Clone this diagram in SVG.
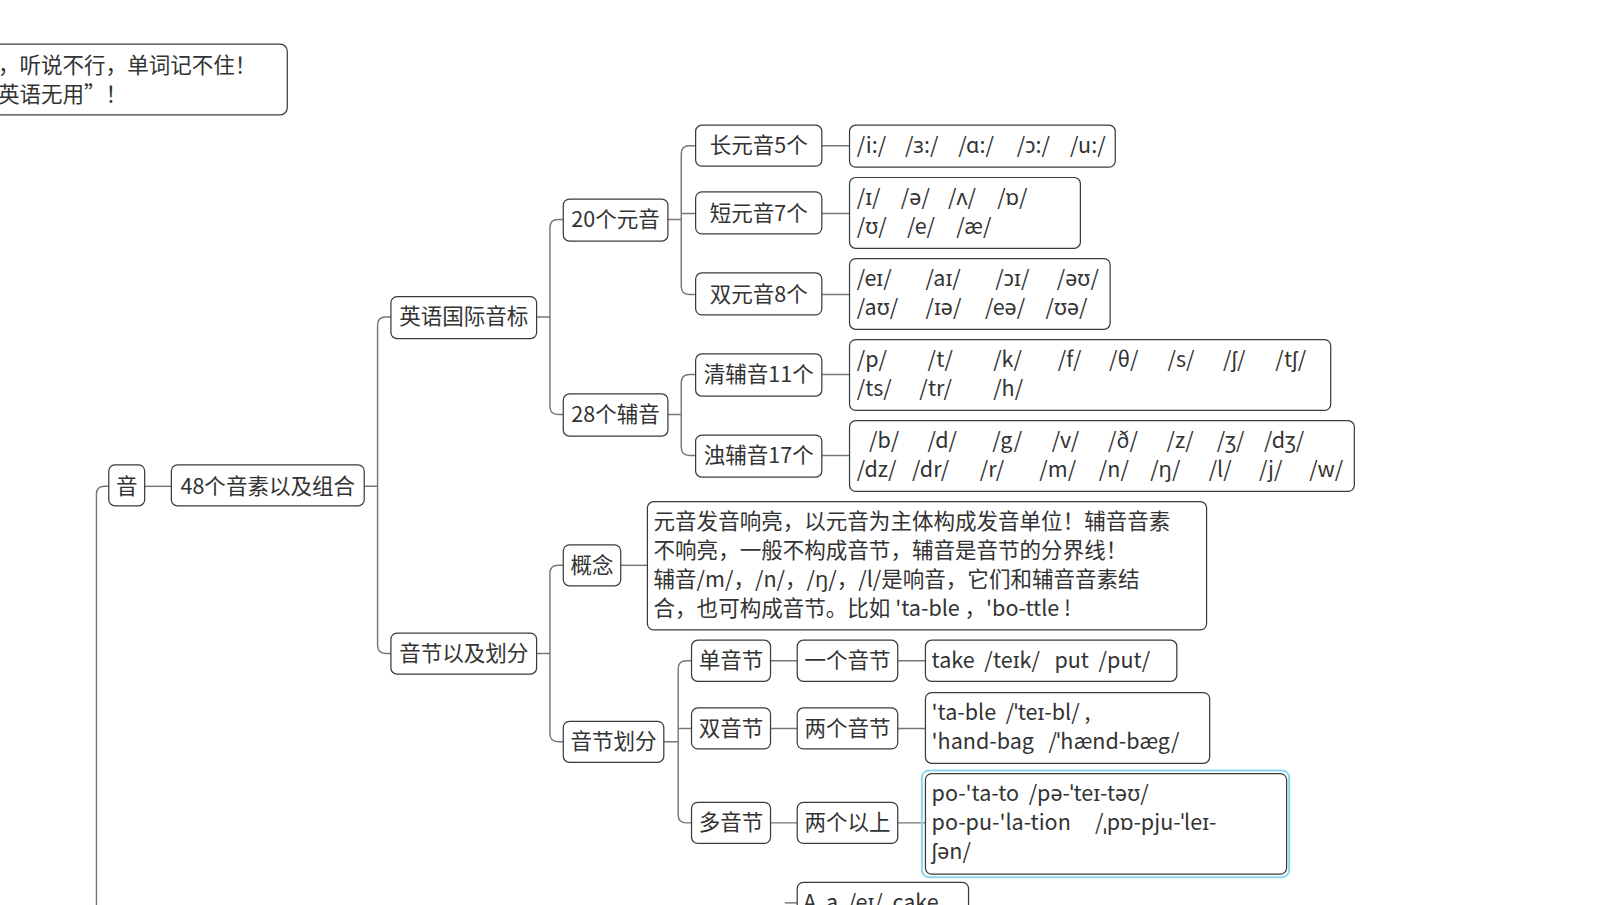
<svg xmlns="http://www.w3.org/2000/svg" width="1609" height="905" viewBox="0 0 1609 905">
<style>
.b{fill:#fff;stroke:#3a3a3a;stroke-width:1.2}
.t{font-family:"Noto Sans CJK SC","Noto Sans",sans-serif;font-size:21px;fill:#333}
.c{text-anchor:middle}
.l{fill:none;stroke:#777;stroke-width:1.4}
</style>
<rect width="1609" height="905" fill="#fff"/>
<g transform="scale(1.026)">
<g id="connectors">
<path class="l" d="M106,474H102Q94,474 94,482V890"/>
<path class="l" d="M141,474H167"/>
<path class="l" d="M355,474H368M381,309H376Q368,309 368,317V629Q368,637 376,637H381"/>
<path class="l" d="M523,309H536M549,214H544Q536,214 536,222V396Q536,404 544,404H549"/>
<path class="l" d="M651,214H664M678,142H672Q664,142 664,150V279Q664,287 672,287H678M664,208H678"/>
<path class="l" d="M651,404H664M678,365H672Q664,365 664,373V436Q664,444 672,444H678"/>
<path class="l" d="M801,142H828M801,208H828M801,287H828M801,365H828M801,444H828"/>
<path class="l" d="M523,637H536M549,551H544Q536,551 536,559V715Q536,723 544,723H549"/>
<path class="l" d="M605,551H631"/>
<path class="l" d="M647,723H661M674,644H669Q661,644 661,652V794Q661,802 669,802H674M661,710H674"/>
<path class="l" d="M751,644H777M875,644H902M751,710H777M875,710H902M751,802H777M875,802H902"/>
<path class="l" d="M765,880H777"/>
</g>
<g id="top"><rect class="b" x="-10" y="43" width="290" height="69" rx="7"/>
<text class="t" x="-2" y="71">，听说不行，单词记不住！</text><text class="t" x="-2" y="99">英语无用”！</text></g>
<g id="yin"><rect class="b" x="106" y="453" width="35" height="40" rx="6"/><text class="t c" x="123.5" y="481">音</text></g>
<g id="n48"><rect class="b" x="167" y="453" width="188" height="40" rx="6"/><text class="t c" x="261" y="481">48个音素以及组合</text></g>
<g id="ipa"><rect class="b" x="381" y="289" width="142" height="41" rx="6"/><text class="t c" x="452" y="316">英语国际音标</text></g>
<g id="syl"><rect class="b" x="381" y="617" width="142" height="40" rx="6"/><text class="t c" x="452" y="644">音节以及划分</text></g>
<g id="v20"><rect class="b" x="549" y="194" width="102" height="41" rx="6"/><text class="t c" x="600" y="221">20个元音</text></g>
<g id="c28"><rect class="b" x="549" y="384" width="102" height="41" rx="6"/><text class="t c" x="600" y="411">28个辅音</text></g>
<g id="long"><rect class="b" x="678" y="122" width="123" height="40" rx="6"/><text class="t c" x="739.5" y="149">长元音5个</text></g>
<g id="short"><rect class="b" x="678" y="187" width="123" height="41" rx="6"/><text class="t c" x="739.5" y="215">短元音7个</text></g>
<g id="diph"><rect class="b" x="678" y="266" width="123" height="41" rx="6"/><text class="t c" x="739.5" y="294">双元音8个</text></g>
<g id="vl"><rect class="b" x="678" y="345" width="123" height="41" rx="6"/><text class="t c" x="739.5" y="372">清辅音11个</text></g>
<g id="vd"><rect class="b" x="678" y="424" width="123" height="41" rx="6"/><text class="t c" x="739.5" y="451">浊辅音17个</text></g>
<g id="longv"><rect class="b" x="828" y="122" width="259" height="41" rx="6"/>
<text class="t" y="149"><tspan x="835">/i:/</tspan><tspan x="882">/ɜ:/</tspan><tspan x="934">/ɑ:/</tspan><tspan x="991">/ɔ:/</tspan><tspan x="1043">/u:/</tspan></text></g>
<g id="shortv"><rect class="b" x="828" y="173" width="225" height="69" rx="6"/>
<text class="t" y="200"><tspan x="835">/ɪ/</tspan><tspan x="878">/ə/</tspan><tspan x="924">/ʌ/</tspan><tspan x="972">/ɒ/</tspan></text>
<text class="t" y="228"><tspan x="835">/ʊ/</tspan><tspan x="884">/e/</tspan><tspan x="932">/æ/</tspan></text></g>
<g id="diphv"><rect class="b" x="828" y="252" width="254" height="69" rx="6"/>
<text class="t" y="279"><tspan x="835">/eɪ/</tspan><tspan x="902">/aɪ/</tspan><tspan x="970">/ɔɪ/</tspan><tspan x="1030">/əʊ/</tspan></text>
<text class="t" y="307"><tspan x="835">/aʊ/</tspan><tspan x="902">/ɪə/</tspan><tspan x="960">/eə/</tspan><tspan x="1019">/ʊə/</tspan></text></g>
<g id="vlv"><rect class="b" x="828" y="331" width="469" height="69" rx="6"/>
<text class="t" y="358"><tspan x="835">/p/</tspan><tspan x="904">/t/</tspan><tspan x="968">/k/</tspan><tspan x="1031">/f/</tspan><tspan x="1081">/θ/</tspan><tspan x="1138">/s/</tspan><tspan x="1192">/ʃ/</tspan><tspan x="1243">/tʃ/</tspan></text>
<text class="t" y="386"><tspan x="835">/ts/</tspan><tspan x="896">/tr/</tspan><tspan x="968">/h/</tspan></text></g>
<g id="vdv"><rect class="b" x="828" y="410" width="492" height="69" rx="6"/>
<text class="t" y="437"><tspan x="847">/b/</tspan><tspan x="904">/d/</tspan><tspan x="967">/g/</tspan><tspan x="1025">/v/</tspan><tspan x="1080">/ð/</tspan><tspan x="1137">/z/</tspan><tspan x="1186">/ʒ/</tspan><tspan x="1232">/dʒ/</tspan></text>
<text class="t" y="465"><tspan x="835">/dz/</tspan><tspan x="889">/dr/</tspan><tspan x="955">/r/</tspan><tspan x="1013">/m/</tspan><tspan x="1071">/n/</tspan><tspan x="1121">/ŋ/</tspan><tspan x="1178">/l/</tspan><tspan x="1227">/j/</tspan><tspan x="1276">/w/</tspan></text></g>
<g id="concept"><rect class="b" x="549" y="531" width="56" height="40" rx="6"/><text class="t c" x="577" y="558">概念</text></g>
<g id="conceptv"><rect class="b" x="631" y="489" width="545" height="125" rx="6"/>
<text class="t" x="637" y="516">元音发音响亮，以元音为主体构成发音单位！辅音音素</text>
<text class="t" x="637" y="544">不响亮，一般不构成音节，辅音是音节的分界线！</text>
<text class="t" x="637" y="572">辅音/m/，/n/，/ŋ/，/l/是响音，它们和辅音音素结</text>
<text class="t" x="637" y="600" xml:space="preserve">合，也可构成音节。比如 'ta-ble ，'bo-ttle !</text></g>
<g id="div"><rect class="b" x="549" y="703" width="98" height="40" rx="6"/><text class="t c" x="598" y="730">音节划分</text></g>
<g id="mono"><rect class="b" x="674" y="624" width="77" height="40" rx="6"/><text class="t c" x="712.5" y="651">单音节</text></g>
<g id="one"><rect class="b" x="777" y="624" width="98" height="40" rx="6"/><text class="t c" x="826" y="651">一个音节</text></g>
<g id="monov"><rect class="b" x="902" y="624" width="245" height="40" rx="6"/><text class="t" x="908" y="651" xml:space="preserve">take  /teɪk/   put  /put/</text></g>
<g id="di"><rect class="b" x="674" y="690" width="77" height="40" rx="6"/><text class="t c" x="712.5" y="717">双音节</text></g>
<g id="two"><rect class="b" x="777" y="690" width="98" height="40" rx="6"/><text class="t c" x="826" y="717">两个音节</text></g>
<g id="div2"><rect class="b" x="902" y="675" width="277" height="69" rx="6"/>
<text class="t" x="908" y="702" xml:space="preserve">'ta-ble  /ˈteɪ-bl/ ,</text>
<text class="t" x="908" y="730" xml:space="preserve">'hand-bag   /ˈhænd-bæg/</text></g>
<g id="poly"><rect class="b" x="674" y="782" width="77" height="40" rx="6"/><text class="t c" x="712.5" y="809">多音节</text></g>
<g id="more"><rect class="b" x="777" y="782" width="98" height="40" rx="6"/><text class="t c" x="826" y="809">两个以上</text></g>
<g id="polyv"><rect x="898.5" y="751" width="358" height="104" rx="7" fill="none" stroke="#8fd6ee" stroke-width="2"/>
<rect class="b" x="902" y="754" width="352" height="98" rx="6"/>
<text class="t" x="908" y="781" xml:space="preserve">po-'ta-to  /pə-ˈteɪ-təʊ/</text>
<text class="t" x="908" y="809" xml:space="preserve">po-pu-'la-tion     /ˌpɒ-pju-ˈleɪ-</text>
<text class="t" x="908" y="837">ʃən/</text></g>
<g id="aa"><rect class="b" x="777" y="860" width="167" height="40" rx="6"/><text class="t" x="783" y="887" xml:space="preserve">A  a  /eɪ/  cake</text></g>
</g>
</svg>
